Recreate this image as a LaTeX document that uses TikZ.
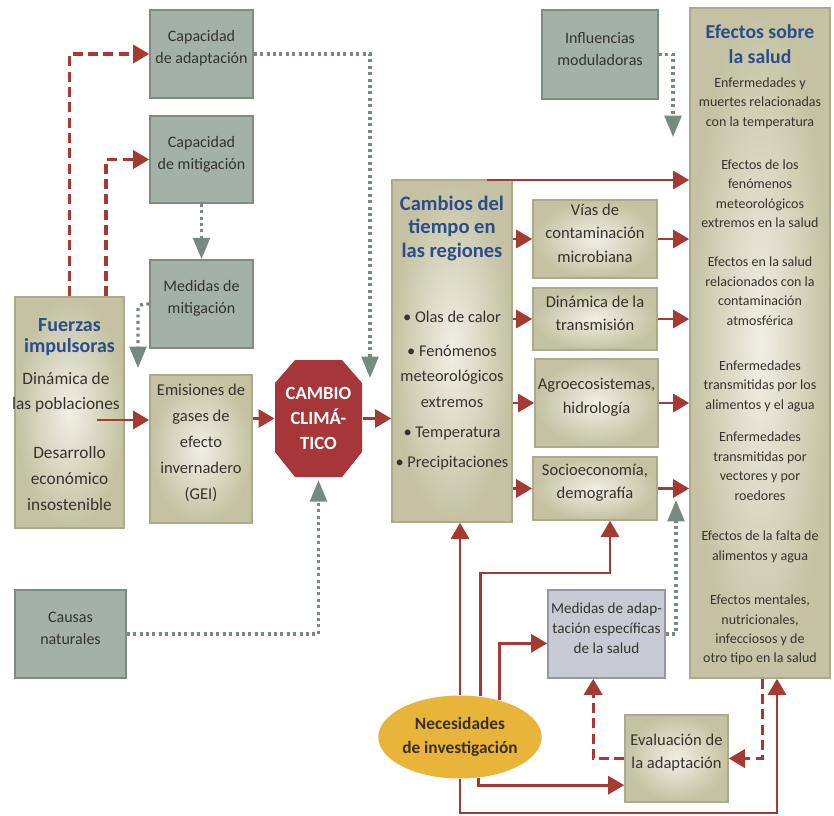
\documentclass[tikz,border=0pt]{standalone}
\usepackage{fontspec}
\setmainfont{Carlito}
\usetikzlibrary{arrows.meta,calc,fit,shapes.geometric}

\tikzset{every picture/.style={line width=0.75pt}}
\tikzset{
  boxtext/.style={text={rgb, 255:red, 52; green, 52; blue, 46 }, align=center},
  graybox/.style={boxtext, draw={rgb, 255:red, 126; green, 140; blue, 129 }, fill={rgb, 255:red, 163; green, 177; blue, 166 }, line width=1.2pt, inner sep=0pt, font=\fontsize{12}{16.5}\selectfont},
  khakibox/.style={boxtext, draw={rgb, 255:red, 172; green, 170; blue, 140 }, inner color={rgb, 255:red, 240; green, 239; blue, 229 }, outer color={rgb, 255:red, 196; green, 194; blue, 162 }, line width=1.2pt, inner sep=0pt, font=\fontsize{12.4}{17.5}\selectfont},
  bluebox/.style={boxtext, draw={rgb, 255:red, 150; green, 153; blue, 162 }, fill={rgb, 255:red, 200; green, 203; blue, 212 }, line width=1.2pt, inner sep=0pt, font=\fontsize{11.4}{15}\selectfont},
  bluetitle/.style={text={rgb, 255:red, 43; green, 77; blue, 140 }, align=center, inner sep=0.75pt},
  plaintext/.style={boxtext, inner sep=0.75pt},
  redline/.style={draw={rgb, 255:red, 164; green, 58; blue, 50 }, line width=2.2pt},
  redarr/.style={redline, -{Triangle[length=12pt,width=13.5pt]}},
  reddash/.style={redarr, line width=2.5pt, dash pattern=on 7.5pt off 4pt},
  grayarr/.style={draw={rgb, 255:red, 118; green, 138; blue, 128 }, line width=2.5pt, dash pattern=on 2.2pt off 2.6pt, -{Triangle[length=16pt,width=12.5pt]}}
}

\begin{document}
\begin{tikzpicture}[x=0.75pt,y=0.75pt,yscale=-1,xscale=1]
%set diagram size 834 x 816
\useasboundingbox (0,0) rectangle (834,816);

%Shape: Rectangle [id:capadap]
\node[graybox, fit={(150,10) (253,98)}] (capadap) {Capacidad\\de adaptación};
%Shape: Rectangle [id:capmit]
\node[graybox, fit={(150,116) (253,203)}] (capmit) {Capacidad\\de mitigación};
%Shape: Rectangle [id:medmit]
\node[graybox, fit={(150,260) (253,348)}] (medmit) {Medidas de\\mitigación};
%Shape: Rectangle [id:causas]
\node[graybox, fit={(15,590) (126,678)}] (causas) {Causas\\naturales};
%Shape: Rectangle [id:influ]
\node[graybox, fit={(542,10) (658,99)}] (influ) {Influencias\\moduladoras};

%Shape: Rectangle [id:fuerzas]
\node[khakibox, fit={(15,297) (124,528)}] (fuerzas) {};
%Shape: Rectangle [id:emis]
\node[khakibox, fit={(150,375) (252,523)}, font=\fontsize{12.4}{19.5}\selectfont] (emis) {Emisiones de\\gases de\\efecto\\invernadero\\(GEI)};
%Shape: Rectangle [id:cambios]
\node[khakibox, fit={(392,180) (512,522)}] (cambios) {};
%Shape: Rectangle [id:vias]
\node[khakibox, fit={(533,200) (657,278)}] (vias) {Vías de\\contaminación\\microbiana};
%Shape: Rectangle [id:dinam]
\node[khakibox, fit={(533,288) (657,350)}] (dinam) {Dinámica de la\\transmisión};
%Shape: Rectangle [id:agro]
\node[khakibox, fit={(535,359) (658,447)}] (agro) {Agroecosistemas,\\hidrología};
%Shape: Rectangle [id:socio]
\node[khakibox, fit={(533,457) (657,520)}] (socio) {Socioeconomía,\\demografía};
%Shape: Rectangle [id:efectos]
\node[khakibox, fit={(690,8) (830,678)}] (efectos) {};
%Shape: Rectangle [id:medad]
\node[bluebox, fit={(548,590) (665,678)}] (medad) {Medidas de adap-\\tación específicas\\de la salud};
%Shape: Rectangle [id:evalu]
\node[khakibox, fit={(625,715) (728,802)}] (evalu) {Evaluación de\\la adaptación};

%Shape: Polygon [id:octagon]
\fill[fill={rgb, 255:red, 166; green, 54; blue, 56 }] (275,383) -- (295,360) -- (342,360) -- (362,383) -- (362,452) -- (342,477) -- (295,477) -- (275,452) -- cycle ;
\node[minimum width=65.25pt, minimum height=87.75pt, inner sep=0pt, align=center, text=white, font=\bfseries\fontsize{14}{19}\selectfont] (cc) at (318.5,418.5) {CAMBIO\\CLIMÁ-\\TICO};

% Text Node
\node[bluetitle, font=\bfseries\fontsize{15}{15.5}\selectfont] (fz-title) at (69.5,337) {Fuerzas\\impulsoras};
% Text Node
\node[plaintext, font=\fontsize{13}{19}\selectfont] (fz-din) at (66,392.5) {Dinámica de\\las poblaciones};
% Text Node
\node[plaintext, font=\fontsize{13}{19.5}\selectfont] (fz-des) at (69.5,479) {Desarrollo\\económico\\insostenible};
% Text Node
\node[bluetitle, font=\bfseries\fontsize{15.4}{17.6}\selectfont] (cb-title) at (452,228.5) {Cambios del\\tiempo en\\las regiones};
% Text Node
\node[plaintext, font=\fontsize{12.3}{19}\selectfont] (cb-list) at (452,390.5) {• Olas de calor\\[6.5pt]• Fenómenos\\meteorológicos\\extremos\\[3.5pt]• Temperatura\\[3.5pt]• Precipitaciones};
% Text Node
\node[bluetitle, font=\bfseries\fontsize{14.8}{19}\selectfont] (ef-title) at (760,44) {Efectos sobre\\la salud};
% Text Node
\node[plaintext, font=\fontsize{10.5}{14.6}\selectfont] (ef1) at (760,103) {Enfermedades y\\muertes relacionadas\\con la temperatura};
% Text Node
\node[plaintext, font=\fontsize{10.5}{14.6}\selectfont] (ef2) at (760,193.5) {Efectos de los\\fenómenos\\meteorológicos\\extremos en la salud};
% Text Node
\node[plaintext, font=\fontsize{10.5}{14.6}\selectfont] (ef3) at (760,291) {Efectos en la salud\\relacionados con la\\contaminación\\atmosférica};
% Text Node
\node[plaintext, font=\fontsize{10.5}{14.6}\selectfont] (ef4) at (760,386) {Enfermedades\\transmitidas por los\\alimentos y el agua};
% Text Node
\node[plaintext, font=\fontsize{10.5}{14.6}\selectfont] (ef5) at (760,466) {Enfermedades\\transmitidas por\\vectores y por\\roedores};
% Text Node
\node[plaintext, font=\fontsize{10.5}{14.6}\selectfont] (ef6) at (760,547) {Efectos de la falta de\\alimentos y agua};
% Text Node
\node[plaintext, font=\fontsize{10.5}{14.6}\selectfont] (ef7) at (760,630) {Efectos mentales,\\nutricionales,\\infecciosos y de\\otro tipo en la salud};

% free ends
\coordinate (fz-out) at (97,420);
\coordinate (mm-tip) at (138,368);
\coordinate (cc-tip) at (370,378);
\coordinate (cb-top) at (487,180);
\coordinate (ef-tip) at (673,137);
\coordinate (ma-tip) at (676,500);
\coordinate (rb-turn) at (610,573);
\coordinate (bot-turn) at (777,813);

%Straight Lines [id:dashed up]
\draw[reddash] ($(fuerzas.north west)!0.5!(fuerzas.north east)$) |- (capadap.west);
\draw[reddash] ($(fuerzas.north west)!0.83!(fuerzas.north east)$) |- (capmit.west);
%Straight Lines [id:dotted]
\draw[grayarr] (capmit.south) -- (medmit.north);
\draw[grayarr, rounded corners=4pt] (medmit.west) -| (mm-tip);
\draw[grayarr] (capadap.east) -| (cc-tip);
\draw[grayarr, shorten >=2pt] (causas.east) -| (cc.south);
\draw[grayarr] (influ.east) -| (ef-tip);
\draw[grayarr] (medad.east) -| (ma-tip);
%Straight Lines [id:main chain]
\draw[redarr] (fz-out) -- (fz-out -| emis.west);
\draw[redarr] (cc.west -| emis.east) -- (cc.west);
\draw[redarr] (cc.east) -- (cc.east -| cambios.west);
\draw[redarr] (cb-top) -- (cb-top -| efectos.west);
%Straight Lines [id:regions]
\draw[redarr] (vias.west -| cambios.east) -- (vias.west);
\draw[redarr] (dinam.west -| cambios.east) -- (dinam.west);
\draw[redarr] (agro.west -| cambios.east) -- (agro.west);
\draw[redarr] (socio.west -| cambios.east) -- (socio.west);
\draw[redarr] (vias.east) -- (vias.east -| efectos.west);
\draw[redarr] (dinam.east) -- (dinam.east -| efectos.west);
\draw[redarr] (agro.east) -- (agro.east -| efectos.west);
\draw[redarr] (socio.east) -- (socio.east -| efectos.west);

%Shape: Ellipse [id:necesid]
\node[ellipse, minimum width=97.5pt, minimum height=62.25pt, inner sep=0pt, fill={rgb, 255:red, 232; green, 180; blue, 58 }, align=center, text={rgb, 255:red, 58; green, 48; blue, 30 }, font=\bfseries\fontsize{13}{17.5}\selectfont] (necesid) at (460,737) {Necesidades\\de investigación};

%Straight Lines [id:research]
\draw[redarr] (necesid.north) -- (necesid.north |- cambios.south);
\draw[redarr] (necesid.63) |- (rb-turn) -- (rb-turn |- socio.south);
\draw[redarr] (necesid.43) |- ([yshift=7pt]medad.west);
\draw[redarr] (necesid.-66) |- ([yshift=20pt]evalu.west);
\draw[redarr] (necesid.south) |- (bot-turn) -- (bot-turn |- efectos.south);
%Straight Lines [id:evaluation]
\draw[reddash] (evalu.west) -| ([xshift=-10pt]medad.south);
\draw[reddash] ([xshift=2pt]efectos.south) |- (evalu.east);

\end{tikzpicture}
\end{document}
